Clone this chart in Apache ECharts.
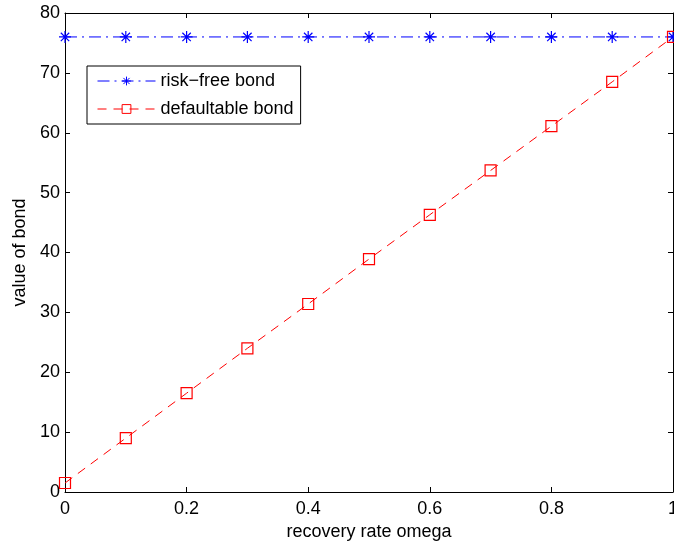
<!DOCTYPE html>
<html><head><meta charset="utf-8">
<script src="https://cdn.jsdelivr.net/npm/echarts@6/dist/echarts.min.js"></script>
<style>html,body{margin:0;padding:0;background:#fff}#c{width:674px;height:548px}</style>
</head><body><div id="c"></div>
<script>
const omega = [0, 0.1, 0.2, 0.3, 0.4, 0.5, 0.6, 0.7, 0.8, 0.9, 1.0];
const riskFree = [76, 76, 76, 76, 76, 76, 76, 76, 76, 76, 76];
const defaultable = [1.5, 9.0, 16.5, 24.0, 31.4, 38.9, 46.3, 53.7, 61.1, 68.5, 76.0];
const xTicks = [0, 0.2, 0.4, 0.6, 0.8, 1];
const yTicks = [0, 10, 20, 30, 40, 50, 60, 70, 80];

const font = 'Liberation Sans, Arial, sans-serif';
const asterisk = 'path://M0,5L10,5M5,0L5,10M1.5,1.5L8.5,8.5M8.5,1.5L1.5,8.5';
const chart = echarts.init(document.getElementById('c'), null, {renderer: 'canvas'});
const axisBase = {
  axisLine: {show: true, onZero: false, lineStyle: {color: '#000', width: 1}},
  axisTick: {show: true, inside: true, length: 5, lineStyle: {color: '#000'}},
  splitLine: {show: false}
};
chart.setOption({
  animation: false,
  backgroundColor: '#fff',
  grid: {left: 65, right: 1, top: 13, bottom: 56, containLabel: false, outerBoundsMode: 'none'},
  legend: {
    left: 87, top: 66, orient: 'vertical', itemGap: 10,
    padding: [6, 7, 6, 10],
    borderColor: '#000', borderWidth: 1, backgroundColor: '#fff',
    itemWidth: 58, itemHeight: 11,
    textStyle: {fontFamily: font, fontSize: 18, color: '#000'},
    data: [
      {name: 'risk\u2212free bond', lineStyle: {width: 1}, itemStyle: {borderWidth: 1}},
      {name: 'defaultable bond', lineStyle: {width: 1}, itemStyle: {borderWidth: 1}}
    ]
  },
  xAxis: [
    Object.assign({}, axisBase, {
      type: 'value', min: 0, max: 1, interval: 0.2, position: 'bottom',
      name: 'recovery rate omega', nameLocation: 'middle', nameGap: 30,
      nameTextStyle: {fontFamily: font, fontSize: 18, color: '#000'},
      axisLabel: {fontFamily: font, fontSize: 18, color: '#000', margin: 8,
        formatter: v => xTicks.includes(+v.toFixed(1)) ? String(+v.toFixed(1)) : ''}
    }),
    Object.assign({}, axisBase, {
      type: 'value', min: 0, max: 1, interval: 0.2, position: 'top',
      axisLabel: {show: false}
    })
  ],
  yAxis: [
    Object.assign({}, axisBase, {
      type: 'value', min: 0, max: 80, interval: 10, position: 'left',
      name: 'value of bond', nameLocation: 'middle', nameGap: 36,
      nameTextStyle: {fontFamily: font, fontSize: 18, color: '#000'},
      axisLabel: {fontFamily: font, fontSize: 18, color: '#000', margin: 5,
        formatter: v => yTicks.includes(v) ? String(v) : ''}
    }),
    Object.assign({}, axisBase, {
      type: 'value', min: 0, max: 80, interval: 10, position: 'right',
      axisLabel: {show: false}
    })
  ],
  series: [
    {
      name: 'risk\u2212free bond', type: 'line',
      data: omega.map((x, i) => [x, riskFree[i]]),
      symbol: asterisk, symbolSize: 12,
      itemStyle: {color: 'none', borderColor: '#0000ff', borderWidth: 1.2},
      lineStyle: {color: '#0000ff', width: 1, type: [12, 5, 2, 5]},
      color: '#0000ff'
    },
    {
      name: 'defaultable bond', type: 'line',
      data: omega.map((x, i) => [x, defaultable[i]]),
      symbol: 'rect', symbolSize: 11,
      itemStyle: {color: 'none', borderColor: '#ff0000', borderWidth: 1.2},
      lineStyle: {color: '#ff0000', width: 1, type: [9, 7]},
      color: '#ff0000'
    }
  ]
});
</script></body></html>
